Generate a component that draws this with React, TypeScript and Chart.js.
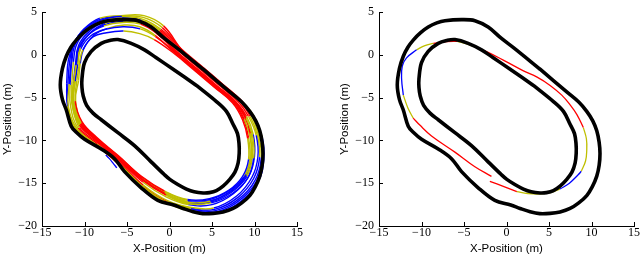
import React, { useEffect, useRef } from 'react';
import { Chart, registerables } from 'chart.js';

Chart.register(...registerables);

type P = [number, number];

const X_TICKS = [-15, -10, -5, 0, 5, 10, 15];
const Y_TICKS = [-20, -15, -10, -5, 0, 5];
const X_TITLE = 'X-Position (m)';
const Y_TITLE = 'Y-Position (m)';

const OUTER_TRACK: P[] = [
  [3.95, -1.67], [7.09, -4.32], [8.5, -5.5], [9.44, -6.59], [10.15, -7.7], [10.62, -8.86],
  [10.9, -10.2], [11.0, -11.51], [10.9, -12.9], [10.62, -14.17], [10.1, -15.4], [9.44, -16.44],
  [8.5, -17.3], [7.48, -17.95], [6.3, -18.35], [5.13, -18.52], [3.9, -18.55], [2.78, -18.33],
  [1.6, -17.95], [0.5, -17.55], [-1.37, -17.0], [-3.33, -15.53], [-5.29, -13.64], [-6.47, -12.13],
  [-8.03, -10.99], [-9.99, -9.85], [-11.0, -9.0], [-11.56, -8.33], [-12.14, -6.44], [-12.6, -5.2],
  [-12.85, -3.5], [-12.6, -1.6], [-12.14, -0.15], [-11.6, 0.9], [-10.97, 1.74], [-10.1, 2.6],
  [-9.21, 3.26], [-8.2, 3.75], [-7.24, 4.01], [-5.29, 4.13], [-3.72, 4.01], [-2.16, 3.26],
  [-0.59, 1.93], [0.82, 0.85],
];

const INNER_TRACK: P[] = [
  [3.17, -3.56], [5.52, -5.45], [6.7, -6.6], [7.48, -8.1], [8.0, -9.2], [8.18, -10.38],
  [8.2, -11.5], [8.07, -12.65], [7.7, -13.7], [7.09, -14.55], [6.3, -15.35], [5.52, -15.87],
  [4.7, -16.1], [3.95, -16.14], [2.9, -16.0], [1.99, -15.68], [0.98, -15.15], [0.04, -14.55],
  [-0.59, -14.01], [-2.16, -12.5], [-4.12, -10.6], [-6.07, -9.09], [-8.03, -7.58], [-9.0, -6.8],
  [-9.75, -5.9], [-10.15, -4.8], [-10.3, -3.8], [-10.3, -2.8], [-10.0, -0.9], [-9.21, 0.42],
  [-8.03, 1.36], [-7.0, 1.7], [-6.07, 1.8], [-4.51, 1.36], [-2.94, 0.6], [-1.6, -0.3], [0.43, -1.67],
];

// Left panel: recorded laps (closed loops) and their segment colours
const LAP_A: P[] = [
  [-11.8, -3.4], [-11.6, -1.0], [-11.3, 1.2], [-10.0, 3.0], [-8.0, 4.1], [-5.6, 4.5], [-3.2, 4.2],
  [-1.0, 3.0], [1.4, 0.7], [3.8, -1.33], [6.2, -3.37], [8.4, -5.3], [9.7, -7.2], [10.5, -9.5],
  [10.8, -12.0], [10.1, -14.6], [8.2, -16.8], [5.4, -18.2], [2.5, -18.0], [-0.2, -17.3],
  [-3.0, -15.5], [-5.9, -12.8], [-8.6, -10.5], [-10.9, -8.6], [-11.9, -6.0],
];
const LAP_A_COLORS = 'BBBBBYYRRRRRYYBBBBYYYRYYY';

const LAP_B: P[] = [
  [-11.3, -3.2], [-11.0, -1.2], [-10.7, 0.8], [-9.5, 2.4], [-7.7, 3.4], [-5.5, 3.8], [-3.4, 3.6],
  [-1.5, 2.5], [0.8, 0.4], [3.2, -1.63], [5.6, -3.66], [7.8, -5.5], [9.0, -7.4], [9.8, -9.6],
  [9.9, -12.1], [9.2, -14.4], [7.4, -16.2], [4.9, -17.3], [2.2, -17.4], [-0.4, -16.4],
  [-3.1, -14.7], [-5.9, -12.3], [-8.5, -10.0], [-10.6, -8.2], [-11.5, -5.6],
];
const LAP_B_COLORS = 'YBBBYYRRRRRRYYBBBYYRRRRYY';

const LAP_C: P[] = [
  [-10.9, -3.0], [-10.6, -1.0], [-10.2, 0.6], [-9.0, 2.1], [-7.4, 2.6], [-5.4, 2.8], [-3.5, 2.5],
  [-1.8, 1.8], [0.5, 0.2], [2.9, -1.77], [5.3, -3.8], [7.4, -5.6], [8.6, -7.6], [9.2, -9.8],
  [9.3, -12.2], [8.6, -14.2], [7.0, -15.8], [4.7, -16.8], [2.1, -16.9], [-0.6, -15.9],
  [-3.3, -14.2], [-6.0, -11.8], [-8.6, -9.6], [-10.3, -7.8], [-11.1, -5.4],
];
const LAP_C_COLORS = 'YYBBBYYRRRRRRYBBBBYRRRRRY';

const LAP_D: P[] = [
  [-12.1, -3.3], [-11.9, -0.6], [-11.2, 1.4], [-10.1, 3.0], [-8.2, 4.3], [-5.7, 4.6], [-3.0, 4.6],
  [-0.7, 3.4], [1.6, 0.43], [4.1, -1.69], [6.5, -3.72], [8.6, -5.5], [9.9, -7.1], [10.9, -9.6],
  [11.1, -12.2], [10.4, -14.9], [8.4, -17.1], [5.6, -18.5], [2.6, -18.3], [-0.1, -17.4],
  [-2.9, -15.7], [-5.7, -13.0], [-8.4, -10.7], [-11.1, -8.7], [-12.0, -6.0],
];
const LAP_D_COLORS = 'BBBBYYYRRRRYYBBBBBYYYYRYB';

const LAP_E: P[] = [
  [-11.5, -3.5], [-11.3, -0.8], [-10.9, 1.3], [-9.7, 2.8], [-7.9, 3.9], [-5.6, 4.2], [-3.3, 3.9],
  [-1.2, 2.8], [1.1, 0.45], [3.5, -1.58], [5.9, -3.61], [8.1, -5.5], [9.3, -7.2], [10.2, -9.4],
  [10.4, -11.9], [9.7, -14.3], [7.9, -16.5], [5.2, -17.9], [2.4, -17.8], [-0.3, -17.0],
  [-3.1, -15.2], [-5.8, -12.6], [-8.4, -10.3], [-10.6, -8.5], [-11.4, -5.9],
];
const LAP_E_COLORS = 'YBBBBBYRRRRRYBBBBYYYRRRYY';

const LAP_F: P[] = [
  [-11.1, -3.1], [-10.8, -1.1], [-10.5, 0.9], [-9.3, 2.6], [-7.6, 3.7], [-5.3, 4.1], [-3.4, 3.9],
  [-1.6, 2.9], [0.7, 0.29], [3.0, -1.66], [5.4, -3.69], [7.6, -5.55], [8.8, -7.1], [9.5, -9.2],
  [9.6, -11.8], [9.0, -14.0], [7.2, -15.9], [4.8, -17.1], [2.0, -17.2], [-0.5, -16.2],
  [-3.2, -14.5], [-6.0, -12.1], [-8.7, -9.8], [-10.4, -8.0], [-11.3, -5.2],
];
const LAP_F_COLORS = 'BYBBYYRRRRRRRYYBBYYRRRRYY';

const LAP_G: P[] = [
  [-11.7, -3.5], [-11.5, -0.9], [-11.1, 1.25], [-9.85, 2.9], [-7.95, 4.0], [-5.6, 4.35], [-3.25, 4.05],
  [-1.1, 2.9], [1.25, 0.6], [3.65, -1.45], [6.05, -3.5], [8.25, -5.4], [9.5, -7.2], [10.35, -9.45],
  [10.6, -11.95], [9.9, -14.45], [8.05, -16.65], [5.3, -18.05], [2.45, -17.9], [-0.25, -17.15],
  [-3.05, -15.35], [-5.85, -12.7], [-8.5, -10.4], [-10.75, -8.55], [-11.65, -5.95],
];
const LAP_G_COLORS = 'BBBBYBYRRRRRYYBBBBYRYYRYY';

const LAP_H: P[] = [
  [-11.2, -3.15], [-10.9, -1.15], [-10.6, 0.85], [-9.4, 2.5], [-7.65, 3.55], [-5.4, 3.95], [-3.4, 3.75],
  [-1.55, 2.7], [0.75, 0.35], [3.1, -1.65], [5.5, -3.68], [7.7, -5.52], [8.9, -7.25], [9.65, -9.4],
  [9.75, -11.95], [9.1, -14.2], [7.3, -16.05], [4.85, -17.2], [2.1, -17.3], [-0.45, -16.3],
  [-3.15, -14.6], [-5.95, -12.2], [-8.6, -9.9], [-10.5, -8.1], [-11.4, -5.4],
];
const LAP_H_COLORS = 'YBBBBYRRRRRRYYYBBBYYRRRYY';

const LAP_I: P[] = [
  [-11.1, -3.1], [-10.8, -1.1], [-10.45, 0.7], [-9.25, 2.25], [-7.55, 3.0], [-5.45, 3.3], [-3.45, 3.05],
  [-1.65, 2.15], [0.65, 0.3], [3.05, -1.7], [5.45, -3.73], [7.6, -5.55], [8.8, -7.5], [9.5, -9.7],
  [9.6, -12.15], [8.9, -14.3], [7.2, -16.0], [4.8, -17.05], [2.15, -17.15], [-0.5, -16.15],
  [-3.2, -14.45], [-5.95, -12.05], [-8.55, -9.8], [-10.45, -8.0], [-11.3, -5.5],
];
const LAP_I_COLORS = 'YYBBBBYRRRRRYYBBBBYYRRRYY';

const LAP_J: P[] = [
  [-11.95, -3.35], [-11.75, -0.8], [-11.25, 1.3], [-10.05, 3.0], [-8.1, 4.2], [-5.65, 4.55], [-3.1, 4.4],
  [-0.85, 3.2], [1.5, 0.55], [3.95, -1.5], [6.35, -3.55], [8.5, -5.4], [9.8, -7.15], [10.7, -9.55],
  [10.95, -12.1], [10.25, -14.75], [8.3, -16.95], [5.5, -18.35], [2.55, -18.15], [-0.15, -17.35],
  [-2.95, -15.6], [-5.8, -12.9], [-8.5, -10.6], [-11.0, -8.65], [-11.95, -6.0],
];
const LAP_J_COLORS = 'BBBBBYYRRRRYYBBBBBYYYRYYB';

const LAP_K: P[] = [
  [-11.3, -3.3], [-11.05, -0.95], [-10.7, 1.1], [-9.5, 2.7], [-7.75, 3.8], [-5.45, 4.15], [-3.35, 3.9],
  [-1.4, 2.85], [0.9, 0.37], [3.25, -1.62], [5.65, -3.65], [7.85, -5.52], [9.05, -7.15], [9.85, -9.3],
  [10.0, -11.85], [9.35, -14.15], [7.55, -16.2], [5.0, -17.5], [2.2, -17.5], [-0.4, -16.6],
  [-3.15, -14.85], [-5.9, -12.35], [-8.55, -10.05], [-10.5, -8.25], [-11.35, -5.55],
];
const LAP_K_COLORS = 'BBBBYYRRRRRRYBBBBBYYRRRYY';

const LAP_L: P[] = [
  [-10.7, -3.0], [-10.5, -1.0], [-10.1, 0.7], [-8.9, 2.3], [-7.3, 3.1], [-5.3, 3.5], [-3.5, 3.3],
  [-1.7, 2.3], [0.6, 0.25], [3.0, -1.75], [5.35, -3.78], [7.5, -5.6], [8.7, -7.5], [9.3, -9.7],
  [9.45, -12.15], [8.75, -14.25], [7.05, -15.85], [4.75, -16.9], [2.1, -17.0], [-0.55, -16.0],
  [-3.25, -14.3], [-5.95, -11.9], [-8.6, -9.7], [-10.35, -7.85], [-11.05, -5.3],
];
const LAP_L_COLORS = 'YBBBYYYRRRRRRYYBBBYRRRRYY';

const SPUR_BLUE: P[] = [[-7.5, -11.7], [-7.1, -12.1], [-6.6, -12.7], [-6.2, -13.2]];

// Right panel: single run, split by colour
const RUN_RED_1: P[] = [[-1.77, -14.2], [-3.72, -13.07], [-6.07, -11.36], [-8.82, -9.47], [-10.2, -8.2], [-10.97, -7.39]];
const RUN_YEL_1: P[] = [[-10.97, -7.39], [-11.6, -6.2], [-12.14, -4.7]];
const RUN_BLU_1: P[] = [[-12.14, -4.7], [-12.34, -2.8], [-12.26, -1.29], [-11.76, -0.34], [-10.58, 0.6]];
const RUN_YEL_2: P[] = [[-10.58, 0.6], [-9.6, 1.1], [-8.62, 1.36]];
const RUN_RED_2: P[] = [[-8.62, 1.36], [-7.05, 1.56], [-5.8, 1.6]];
const RUN_YEL_3: P[] = [[-5.8, 1.6], [-4.5, 1.25], [-3.5, 0.85]];
const RUN_RED_3: P[] = [[-3.5, 0.85], [-2.16, 0.31], [-0.1, -0.75], [1.99, -1.86], [3.6, -2.6], [5.13, -3.56], [6.5, -4.7], [7.48, -5.83], [8.3, -7.0], [9.04, -8.49]];
const RUN_YEL_4: P[] = [[9.04, -8.49], [9.4, -9.8], [9.44, -11.14], [9.3, -12.4], [8.8, -13.6]];
const RUN_BLU_2: P[] = [[8.8, -13.6], [8.46, -13.98], [7.4, -15.0], [6.3, -15.68]];
const RUN_YEL_5: P[] = [[6.3, -15.68], [5.2, -16.1], [3.95, -16.25], [2.5, -16.2], [1.22, -15.99]];
const RUN_RED_4: P[] = [[1.22, -15.99], [-0.3, -15.4], [-1.96, -14.77]];

const COLORS: Record<string, string> = { R: '#ff0000', B: '#0000ff', Y: '#bfbf00' };

const toXY = (a: P[]) => a.map(([x, y]) => ({ x, y }));
const closed = (a: P[]) => toXY([...a, a[0]]);
const fmt = (v: any) => String(v).replace('-', '\u2212');

function trackSets() {
  return [OUTER_TRACK, INNER_TRACK].map((t) => ({
    data: closed(t), borderColor: '#000', borderWidth: 3.6, tension: 0.35,
    showLine: true, pointRadius: 0,
  }));
}

function lapSet(lap: P[], colors: string) {
  return {
    data: closed(lap), showLine: true, pointRadius: 0, borderWidth: 1.4, tension: 0.4,
    borderColor: COLORS[colors[0]],
    segment: { borderColor: (ctx: any) => COLORS[colors[ctx.p0DataIndex]] || COLORS.Y },
  };
}

function pieceSet(piece: P[], color: string) {
  return { data: toXY(piece), showLine: true, pointRadius: 0, borderWidth: 1.3, tension: 0.4, borderColor: color };
}

const inwardTicks = {
  id: 'inwardTicks',
  afterDatasetsDraw(chart: any) {
    const { ctx, chartArea, scales } = chart;
    ctx.save();
    ctx.strokeStyle = '#000';
    ctx.lineWidth = 1;
    X_TICKS.forEach((v) => {
      const px = Math.round(scales.x.getPixelForValue(v)) + 0.5;
      ctx.beginPath();
      ctx.moveTo(px, chartArea.bottom);
      ctx.lineTo(px, chartArea.bottom - 4);
      ctx.stroke();
    });
    Y_TICKS.forEach((v) => {
      const py = Math.round(scales.y.getPixelForValue(v)) + 0.5;
      ctx.beginPath();
      ctx.moveTo(chartArea.left, py);
      ctx.lineTo(chartArea.left + 4, py);
      ctx.stroke();
    });
    ctx.restore();
  },
};

function makeOptions(padLeft: number, padRight: number): any {
  const tickFont = { family: '"Liberation Serif", "DejaVu Serif", serif', size: 12 };
  const titleFont = { family: '"Liberation Sans", Arial, sans-serif', size: 11.5 };
  return {
    responsive: false,
    animation: false,
    events: [],
    layout: { padding: { left: padLeft, right: padRight, top: 6, bottom: 0 } },
    plugins: { legend: { display: false }, tooltip: { enabled: false } },
    scales: {
      x: {
        type: 'linear', min: -15, max: 15,
        afterBuildTicks: (a: any) => { a.ticks = X_TICKS.map((v) => ({ value: v })); },
        afterFit: (s: any) => { s.height = 33; },
        grid: { display: false, drawTicks: false },
        border: { display: true, color: '#000', width: 1 },
        ticks: { padding: 0, color: '#000', font: tickFont, callback: fmt, maxRotation: 0, autoSkip: false },
        title: { display: true, text: X_TITLE, color: '#000', font: titleFont, padding: { top: 0, bottom: 3.5 } },
      },
      y: {
        type: 'linear', min: -20, max: 5,
        afterBuildTicks: (a: any) => { a.ticks = Y_TICKS.map((v) => ({ value: v })); },
        afterFit: (s: any) => { s.width = 42; },
        grid: { display: false, drawTicks: false },
        border: { display: true, color: '#000', width: 1 },
        ticks: { padding: 5, color: '#000', font: tickFont, callback: fmt, autoSkip: false },
        title: { display: true, text: Y_TITLE, color: '#000', font: titleFont, padding: { top: 1.1, bottom: 0 } },
      },
    },
  };
}

function Plot({ which, left }: { which: 'laps' | 'run'; left: number }) {
  const ref = useRef<HTMLCanvasElement>(null);
  useEffect(() => {
    let datasets: any[];
    if (which === 'laps') {
      datasets = [
        ...trackSets(),
        lapSet(LAP_A, LAP_A_COLORS),
        lapSet(LAP_B, LAP_B_COLORS),
        lapSet(LAP_C, LAP_C_COLORS),
        lapSet(LAP_D, LAP_D_COLORS),
        lapSet(LAP_E, LAP_E_COLORS),
        lapSet(LAP_F, LAP_F_COLORS),
        lapSet(LAP_G, LAP_G_COLORS),
        lapSet(LAP_H, LAP_H_COLORS),
        lapSet(LAP_I, LAP_I_COLORS),
        lapSet(LAP_J, LAP_J_COLORS),
        lapSet(LAP_K, LAP_K_COLORS),
        lapSet(LAP_L, LAP_L_COLORS),
        pieceSet(SPUR_BLUE, COLORS.B),
      ];
    } else {
      datasets = [
        ...trackSets(),
        pieceSet(RUN_RED_1, COLORS.R), pieceSet(RUN_YEL_1, COLORS.Y), pieceSet(RUN_BLU_1, COLORS.B),
        pieceSet(RUN_YEL_2, COLORS.Y), pieceSet(RUN_RED_2, COLORS.R), pieceSet(RUN_YEL_3, COLORS.Y),
        pieceSet(RUN_RED_3, COLORS.R), pieceSet(RUN_YEL_4, COLORS.Y), pieceSet(RUN_BLU_2, COLORS.B),
        pieceSet(RUN_YEL_5, COLORS.Y), pieceSet(RUN_RED_4, COLORS.R),
      ];
    }
    const chart = new Chart(ref.current as HTMLCanvasElement, {
      type: 'scatter',
      data: { datasets },
      options: which === 'laps' ? makeOptions(0, 23) : makeOptions(17, 6),
      plugins: [inwardTicks as any],
    });
    return () => chart.destroy();
  }, [which]);
  return (
    <canvas
      ref={ref}
      width={320}
      height={259}
      style={{ position: 'absolute', left, top: 0, width: 320, height: 259 }}
    />
  );
}

export default function App() {
  return (
    <div style={{ position: 'fixed', left: 0, top: 0, width: 640, height: 259, background: '#fff' }}>
      <Plot which="laps" left={0} />
      <Plot which="run" left={320} />
    </div>
  );
}
